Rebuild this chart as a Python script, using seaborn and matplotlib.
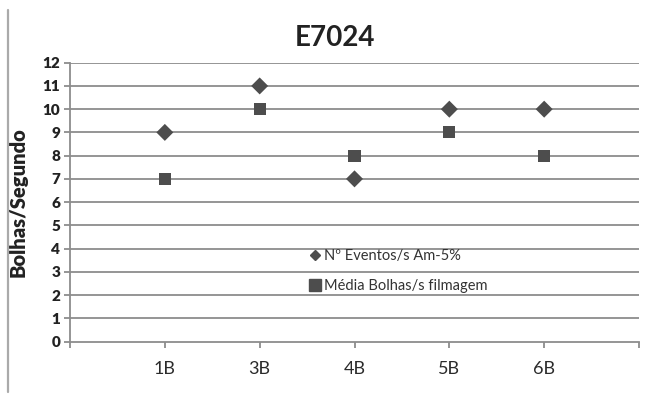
import matplotlib
matplotlib.use("Agg")
import matplotlib.pyplot as plt
import matplotlib.lines as mlines
import seaborn as sns
import pandas as pd

# Chart data
categories = ["1B", "3B", "4B", "5B", "6B"]
eventos = [9, 11, 7, 10, 10]          # Nº Eventos/s Am-5%
media_bolhas = [7, 10, 8, 9, 8]       # Média Bolhas/s filmagem
y_ticks = list(range(0, 13))

series_names = ["Nº Eventos/s Am-5%", "Média Bolhas/s filmagem"]

df = pd.DataFrame({
    "pos": list(range(1, len(categories) + 1)) * 2,
    "valor": eventos + media_bolhas,
    "serie": [series_names[0]] * len(categories) + [series_names[1]] * len(categories),
})

sns.set_theme(style="white")
plt.rcParams["font.family"] = ["Lato", "DejaVu Sans"]

fig = plt.figure(figsize=(6.67, 3.97), dpi=100)
ax = fig.add_axes([70 / 667, 1 - 341.5 / 397, (639 - 70) / 667, (341.5 - 62.7) / 397])

mark_color = "#4d4d4d"
grid_color = "#8c8c8c"
text_color = "#222222"

sns.scatterplot(
    data=df, x="pos", y="valor", hue="serie", style="serie",
    markers={series_names[0]: "D", series_names[1]: "s"},
    palette={series_names[0]: mark_color, series_names[1]: mark_color},
    s=120, linewidth=0, ax=ax, legend=False, zorder=3,
)
# diamonds a little smaller than squares
for coll, size in zip(ax.collections, [75, 150]):
    coll.set_sizes([size])

ax.set_xlim(0, 6)
ax.set_ylim(0, 12)
ax.set_yticks(y_ticks)
ax.set_yticklabels([str(v) for v in y_ticks], fontsize=11, fontweight="heavy", color=text_color)
ax.set_xticks(range(0, 7))
ax.set_xticklabels([""] + categories + [""], fontsize=13, color="#2b2b2b")

for v in y_ticks[1:]:
    ax.axhline(v, color=grid_color, lw=1.3, zorder=1)

for side in ["top", "right"]:
    ax.spines[side].set_visible(False)
for side in ["left", "bottom"]:
    ax.spines[side].set_color(grid_color)
    ax.spines[side].set_linewidth(1.3)

ax.tick_params(axis="both", which="both", direction="out", length=4, width=1.3,
               color=grid_color, left=True, bottom=True)
ax.tick_params(axis="x", pad=10)
ax.tick_params(axis="y", pad=3)

ax.set_xlabel("")
ax.set_ylabel("Bolhas/Segundo", fontsize=14.5, fontweight="heavy", color=text_color)
ax.yaxis.set_label_coords(-0.074, 0.5)

fig.text(335 / 667, 1 - 38 / 397, "E7024", fontsize=20, fontweight="bold",
         color=text_color, ha="center", va="center")

handles = [
    mlines.Line2D([], [], color=mark_color, marker="D", linestyle="none", markersize=5.5),
    mlines.Line2D([], [], color=mark_color, marker="s", linestyle="none", markersize=9),
]
ax.legend(handles, series_names, loc="upper left", bbox_to_anchor=(0.395, 0.38),
          frameon=False, fontsize=10.5, handletextpad=0.1, labelspacing=1.1,
          handlelength=1.0, labelcolor="#333333")

# outer frame line on the left
fig.add_artist(mlines.Line2D([7.5 / 667, 7.5 / 667], [1 - 10 / 397, 1 - 392 / 397],
                             color="#aaaaaa", lw=1.6, transform=fig.transFigure))

fig.savefig("out.png", dpi=100)
